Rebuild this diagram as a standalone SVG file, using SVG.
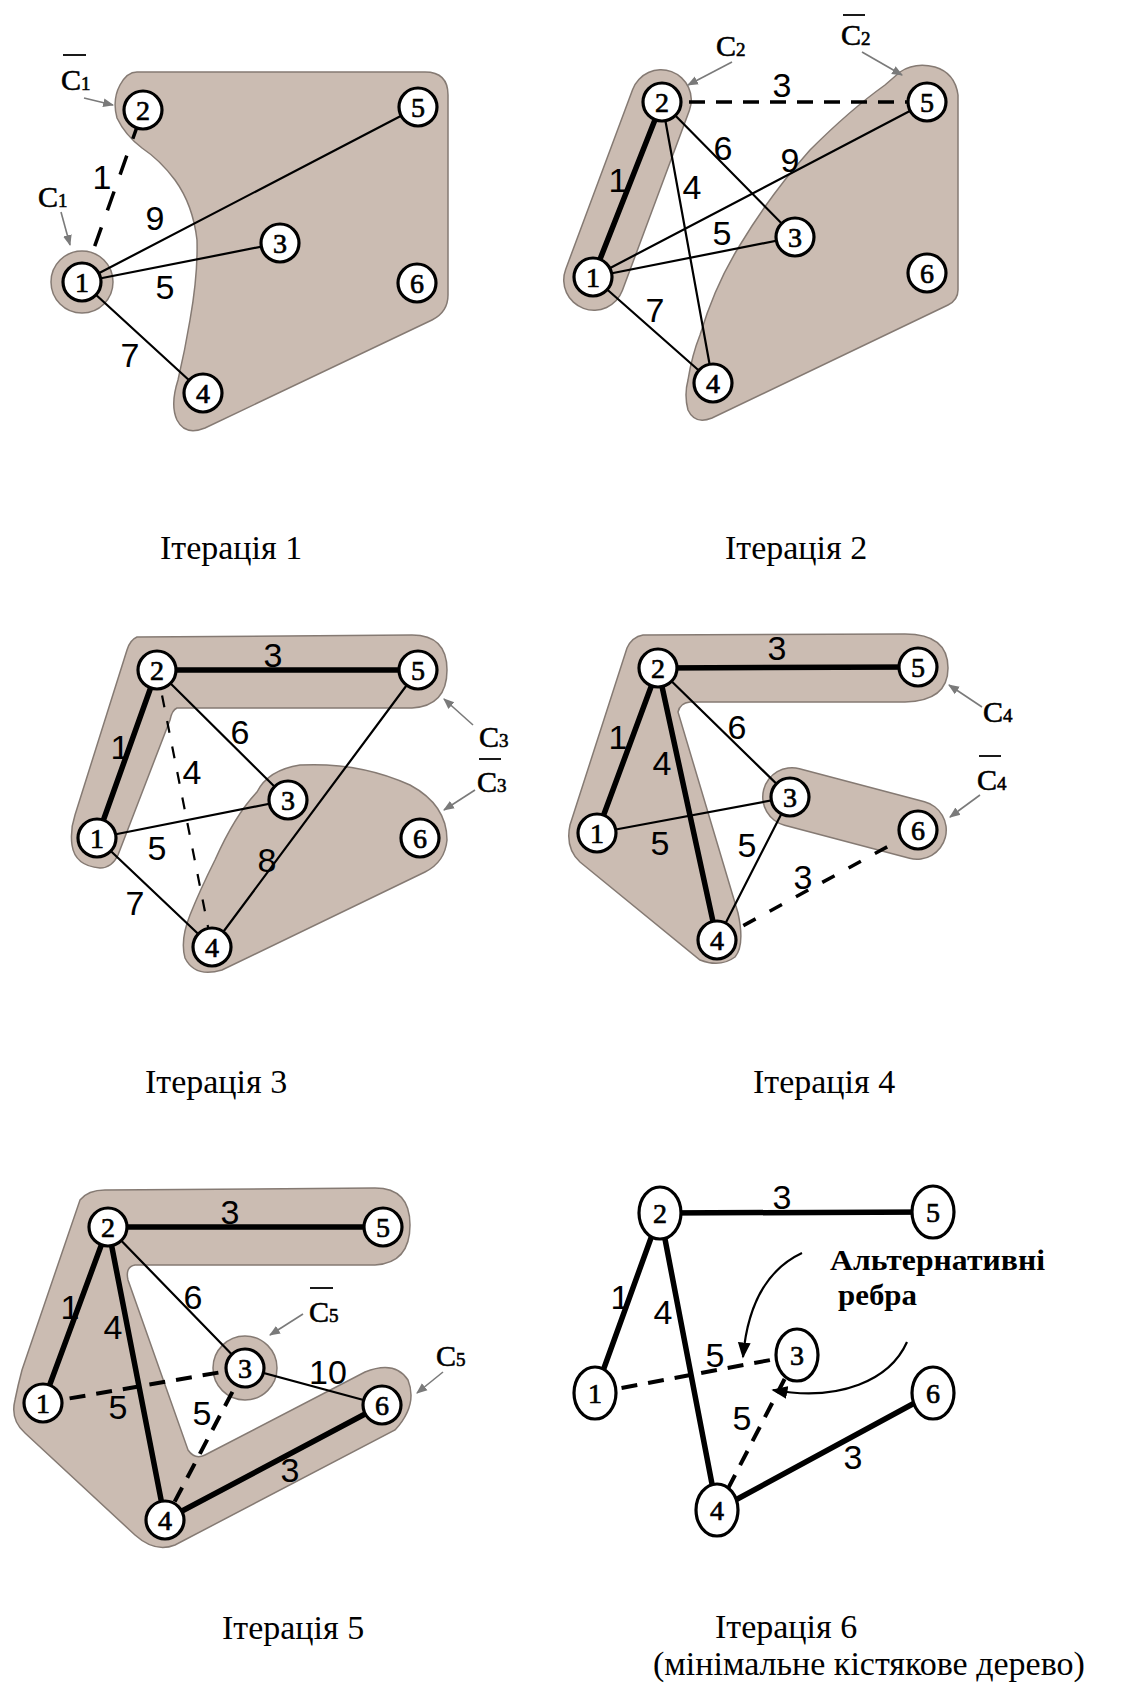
<svg xmlns="http://www.w3.org/2000/svg" width="1146" height="1693" viewBox="0 0 1146 1693">
<style>
.shade{fill:#cbbcb2;stroke:#857a73;stroke-width:1.5}
.e{stroke:#000;fill:none;stroke-linecap:round}
.thin{stroke-width:2.2}
.thick{stroke-width:5.5}
.dash{stroke-width:3.5;stroke-dasharray:16 11;stroke-linecap:butt}
.nd circle,.nd ellipse{fill:#fff;stroke:#000;stroke-width:3.2}
.nt{font-family:"Liberation Serif",serif;font-size:28px;text-anchor:middle;stroke:#000;stroke-width:0.7}
.w{font-family:"Liberation Sans",sans-serif;font-size:34px;text-anchor:middle}
.cl{font-family:"Liberation Serif",serif;font-size:30px;stroke:#000;stroke-width:0.6}
.sub{font-size:19px}
.bar{stroke:#000;stroke-width:1.8}
.cap{font-family:"Liberation Serif",serif;font-size:34px}
.ptr{stroke:#7a7a7a;stroke-width:1.6;fill:none;marker-end:url(#ga)}
.carr{stroke:#000;stroke-width:2.2;fill:none;marker-end:url(#ba)}
</style>
<defs>
<marker id="ga" viewBox="0 0 10 10" refX="9" refY="5" markerWidth="11" markerHeight="11" markerUnits="userSpaceOnUse" orient="auto"><path d="M0,1 L10,5 L0,9 Z" fill="#7a7a7a"/></marker>
<marker id="ba" viewBox="0 0 10 10" refX="9" refY="5" markerWidth="16" markerHeight="16" markerUnits="userSpaceOnUse" orient="auto"><path d="M0,1 L10,5 L0,9 Z" fill="#000"/></marker>
</defs>
<rect width="1146" height="1693" fill="#fff"/>

<!-- Shaded regions -->
<g id="regions">
  <!-- Panel 1 -->
  <path class="shade" d="M137,72 L425,72 Q448,72 448,95 L448,295 Q448,312 432,320 L205,428 Q185,436 177,420 Q170,405 178,380 Q185,350 190,320 Q198,275 197,240 Q193,205 175,180 Q160,160 142,148 Q125,135 117,118 Q112,100 120,85 Q127,72 137,72 Z"/>
  <circle class="shade" cx="82" cy="282" r="31"/>
  <!-- Panel 2 -->
  <line x1="594" y1="280" x2="661" y2="100" stroke="#857a73" stroke-width="62" stroke-linecap="round"/>
  <line x1="594" y1="280" x2="661" y2="100" stroke="#cbbcb2" stroke-width="59" stroke-linecap="round"/>
  <path class="shade" d="M900,72 Q915,62 935,67 Q955,73 958,95 L958,290 Q958,300 948,305 L712,418 Q695,425 688,410 Q684,395 688,380 Q692,355 700,335 Q715,285 740,245 Q770,195 810,150 Q850,110 885,85 Z"/>
  <!-- Panel 3 -->
  <path class="shade" d="M137,637 L412,635 Q447,635 447,670 Q447,706 412,708 L177,708 Q172,710 170,720 L118,855 Q112,868 100,868 Q75,866 72,845 Q70,830 75,815 L127,650 Q130,640 137,637 Z"/>
  <path class="shade" d="M257,792 Q268,770 300,765 Q360,762 410,785 Q447,805 447,840 Q445,862 425,872 L222,970 Q195,978 185,958 Q180,940 190,915 Q200,890 215,860 Q235,815 257,792 Z"/>
  <!-- Panel 4 -->
  <path class="shade" d="M643,635 L905,634 Q948,634 948,668 Q948,701 905,702 L690,702 Q680,703 678,712 L738,913 Q745,945 735,957 Q720,968 700,960 L580,862 Q565,848 570,825 L627,648 Q632,637 643,635 Z"/>
  <line x1="792" y1="797" x2="917" y2="830" stroke="#857a73" stroke-width="60" stroke-linecap="round"/>
  <line x1="792" y1="797" x2="917" y2="830" stroke="#cbbcb2" stroke-width="57" stroke-linecap="round"/>
  <!-- Panel 5 -->
  <path class="shade" d="M80,1200 Q88,1190 105,1190 L375,1188 Q410,1188 410,1225 Q410,1263 375,1265 L135,1265 Q125,1267 128,1280 L188,1450 Q195,1460 205,1455 L365,1372 Q395,1360 408,1380 Q418,1405 395,1430 L175,1545 Q155,1553 135,1535 L25,1433 Q10,1420 15,1400 Q18,1385 22,1370 Z"/>
  <circle class="shade" cx="245" cy="1368" r="32"/>
</g>

<!-- Connectors -->
<g id="connectors">
  <!-- Panel 1 -->
  <line class="e dash" style="stroke-dasharray:20 18" x1="82" y1="282" x2="143" y2="110"/>
  <line class="e thin" x1="82" y1="282" x2="418" y2="107"/>
  <line class="e thin" x1="82" y1="282" x2="280" y2="243"/>
  <line class="e thin" x1="82" y1="282" x2="203" y2="393"/>
  <!-- Panel 2 -->
  <line class="e dash" x1="662" y1="102" x2="927" y2="102"/>
  <line class="e thick" x1="593" y1="277" x2="662" y2="102"/>
  <line class="e thin" x1="662" y1="102" x2="795" y2="237"/>
  <line class="e thin" x1="662" y1="102" x2="713" y2="383"/>
  <line class="e thin" x1="593" y1="277" x2="927" y2="102"/>
  <line class="e thin" x1="593" y1="277" x2="795" y2="237"/>
  <line class="e thin" x1="593" y1="277" x2="713" y2="383"/>
  <!-- Panel 3 -->
  <line class="e thick" x1="157" y1="670" x2="418" y2="670"/>
  <line class="e thick" x1="97" y1="838" x2="157" y2="670"/>
  <line class="e thin" x1="157" y1="670" x2="288" y2="800"/>
  <line class="e dash" style="stroke-width:2.2;stroke-dasharray:12 14" x1="157" y1="670" x2="212" y2="947"/>
  <line class="e thin" x1="97" y1="838" x2="288" y2="800"/>
  <line class="e thin" x1="97" y1="838" x2="212" y2="947"/>
  <line class="e thin" x1="418" y1="670" x2="212" y2="947"/>
  <!-- Panel 4 -->
  <line class="e thick" x1="658" y1="668" x2="918" y2="667"/>
  <line class="e thick" x1="597" y1="833" x2="658" y2="668"/>
  <line class="e thick" x1="658" y1="668" x2="717" y2="940"/>
  <line class="e thin" x1="658" y1="668" x2="790" y2="797"/>
  <line class="e thin" x1="597" y1="833" x2="790" y2="797"/>
  <line class="e thin" x1="790" y1="797" x2="717" y2="940"/>
  <line class="e dash" style="stroke-dasharray:14 16" x1="717" y1="940" x2="918" y2="830"/>
  <!-- Panel 5 -->
  <line class="e thick" x1="108" y1="1227" x2="383" y2="1227"/>
  <line class="e thick" x1="43" y1="1403" x2="108" y2="1227"/>
  <line class="e thick" x1="108" y1="1227" x2="165" y2="1520"/>
  <line class="e thick" x1="165" y1="1520" x2="382" y2="1405"/>
  <line class="e thin" x1="108" y1="1227" x2="245" y2="1368"/>
  <line class="e thin" x1="245" y1="1368" x2="382" y2="1405"/>
  <line class="e dash" style="stroke-width:4" x1="43" y1="1403" x2="245" y2="1368"/>
  <line class="e dash" style="stroke-width:4" x1="245" y1="1368" x2="165" y2="1520"/>
  <!-- Panel 6 -->
  <line class="e thick" x1="660" y1="1213" x2="933" y2="1212"/>
  <line class="e thick" x1="595" y1="1393" x2="660" y2="1213"/>
  <line class="e thick" x1="660" y1="1213" x2="717" y2="1510"/>
  <line class="e thick" x1="717" y1="1510" x2="933" y2="1393"/>
  <line class="e dash" style="stroke-width:4" x1="595" y1="1393" x2="797" y2="1355"/>
  <line class="e dash" style="stroke-width:4" x1="797" y1="1355" x2="717" y2="1510"/>
  <path class="carr" d="M802,1253 C770,1268 748,1300 743,1357"/>
  <path class="carr" d="M907,1342 C890,1380 840,1402 773,1390"/>
</g>

<!-- Nodes -->
<g id="p1-n1" class="nd"><circle cx="82" cy="282" r="19"/><text class="nt" x="82" y="292">1</text></g>
<g id="p1-n2" class="nd"><circle cx="143" cy="110" r="19"/><text class="nt" x="143" y="120">2</text></g>
<g id="p1-n3" class="nd"><circle cx="280" cy="243" r="19"/><text class="nt" x="280" y="253">3</text></g>
<g id="p1-n4" class="nd"><circle cx="203" cy="393" r="19"/><text class="nt" x="203" y="403">4</text></g>
<g id="p1-n5" class="nd"><circle cx="418" cy="107" r="19"/><text class="nt" x="418" y="117">5</text></g>
<g id="p1-n6" class="nd"><circle cx="417" cy="283" r="19"/><text class="nt" x="417" y="293">6</text></g>

<g id="p2-n1" class="nd"><circle cx="593" cy="277" r="19"/><text class="nt" x="593" y="287">1</text></g>
<g id="p2-n2" class="nd"><circle cx="662" cy="102" r="19"/><text class="nt" x="662" y="112">2</text></g>
<g id="p2-n3" class="nd"><circle cx="795" cy="237" r="19"/><text class="nt" x="795" y="247">3</text></g>
<g id="p2-n4" class="nd"><circle cx="713" cy="383" r="19"/><text class="nt" x="713" y="393">4</text></g>
<g id="p2-n5" class="nd"><circle cx="927" cy="102" r="19"/><text class="nt" x="927" y="112">5</text></g>
<g id="p2-n6" class="nd"><circle cx="927" cy="273" r="19"/><text class="nt" x="927" y="283">6</text></g>

<g id="p3-n1" class="nd"><circle cx="97" cy="838" r="19"/><text class="nt" x="97" y="848">1</text></g>
<g id="p3-n2" class="nd"><circle cx="157" cy="670" r="19"/><text class="nt" x="157" y="680">2</text></g>
<g id="p3-n3" class="nd"><circle cx="288" cy="800" r="19"/><text class="nt" x="288" y="810">3</text></g>
<g id="p3-n4" class="nd"><circle cx="212" cy="947" r="19"/><text class="nt" x="212" y="957">4</text></g>
<g id="p3-n5" class="nd"><circle cx="418" cy="670" r="19"/><text class="nt" x="418" y="680">5</text></g>
<g id="p3-n6" class="nd"><circle cx="420" cy="838" r="19"/><text class="nt" x="420" y="848">6</text></g>

<g id="p4-n1" class="nd"><circle cx="597" cy="833" r="19"/><text class="nt" x="597" y="843">1</text></g>
<g id="p4-n2" class="nd"><circle cx="658" cy="668" r="19"/><text class="nt" x="658" y="678">2</text></g>
<g id="p4-n3" class="nd"><circle cx="790" cy="797" r="19"/><text class="nt" x="790" y="807">3</text></g>
<g id="p4-n4" class="nd"><circle cx="717" cy="940" r="19"/><text class="nt" x="717" y="950">4</text></g>
<g id="p4-n5" class="nd"><circle cx="918" cy="667" r="19"/><text class="nt" x="918" y="677">5</text></g>
<g id="p4-n6" class="nd"><circle cx="918" cy="830" r="19"/><text class="nt" x="918" y="840">6</text></g>

<g id="p5-n1" class="nd"><circle cx="43" cy="1403" r="19"/><text class="nt" x="43" y="1413">1</text></g>
<g id="p5-n2" class="nd"><circle cx="108" cy="1227" r="19"/><text class="nt" x="108" y="1237">2</text></g>
<g id="p5-n3" class="nd"><circle cx="245" cy="1368" r="19"/><text class="nt" x="245" y="1378">3</text></g>
<g id="p5-n4" class="nd"><circle cx="165" cy="1520" r="19"/><text class="nt" x="165" y="1530">4</text></g>
<g id="p5-n5" class="nd"><circle cx="383" cy="1227" r="19"/><text class="nt" x="383" y="1237">5</text></g>
<g id="p5-n6" class="nd"><circle cx="382" cy="1405" r="19"/><text class="nt" x="382" y="1415">6</text></g>

<g id="p6-n1" class="nd"><ellipse cx="595" cy="1393" rx="21" ry="26"/><text class="nt" x="595" y="1403">1</text></g>
<g id="p6-n2" class="nd"><ellipse cx="660" cy="1213" rx="21" ry="26"/><text class="nt" x="660" y="1223">2</text></g>
<g id="p6-n3" class="nd"><ellipse cx="797" cy="1355" rx="21" ry="26"/><text class="nt" x="797" y="1365">3</text></g>
<g id="p6-n4" class="nd"><ellipse cx="717" cy="1510" rx="21" ry="26"/><text class="nt" x="717" y="1520">4</text></g>
<g id="p6-n5" class="nd"><ellipse cx="933" cy="1212" rx="21" ry="26"/><text class="nt" x="933" y="1222">5</text></g>
<g id="p6-n6" class="nd"><ellipse cx="933" cy="1393" rx="21" ry="26"/><text class="nt" x="933" y="1403">6</text></g>

<!-- Edge weights -->
<g id="weights" class="w">
  <text x="102" y="189">1</text><text x="155" y="230">9</text><text x="165" y="299">5</text><text x="130" y="367">7</text>
  <text x="782" y="97">3</text><text x="618" y="192">1</text><text x="723" y="160">6</text><text x="692" y="199">4</text><text x="790" y="172">9</text><text x="722" y="245">5</text><text x="655" y="322">7</text>
  <text x="273" y="667">3</text><text x="120" y="759">1</text><text x="240" y="744">6</text><text x="192" y="784">4</text><text x="157" y="860">5</text><text x="135" y="915">7</text><text x="267" y="872">8</text>
  <text x="777" y="660">3</text><text x="618" y="749">1</text><text x="662" y="775">4</text><text x="737" y="739">6</text><text x="660" y="855">5</text><text x="747" y="857">5</text><text x="803" y="889">3</text>
  <text x="230" y="1224">3</text><text x="70" y="1319">1</text><text x="113" y="1339">4</text><text x="193" y="1309">6</text><text x="328" y="1384">10</text><text x="290" y="1482">3</text><text x="118" y="1419">5</text><text x="202" y="1425">5</text>
  <text x="782" y="1209">3</text><text x="620" y="1309">1</text><text x="663" y="1324">4</text><text x="715" y="1367">5</text><text x="742" y="1430">5</text><text x="853" y="1469">3</text>
</g>

<!-- Set labels -->
<g id="setlabels" class="cl">
  <line class="bar" x1="63" y1="55" x2="86" y2="55"/><text x="61" y="90">C<tspan class="sub">1</tspan></text>
  <path class="ptr" d="M84,98 L113,105"/>
  <text x="38" y="207">C<tspan class="sub">1</tspan></text>
  <path class="ptr" d="M61,212 L70,245"/>

  <text x="716" y="56">C<tspan class="sub">2</tspan></text>
  <path class="ptr" d="M732,62 L688,85"/>
  <line class="bar" x1="843" y1="15" x2="865" y2="15"/><text x="841" y="45">C<tspan class="sub">2</tspan></text>
  <path class="ptr" d="M862,52 L902,75"/>

  <text x="479" y="747">C<tspan class="sub">3</tspan></text>
  <path class="ptr" d="M473,725 L444,699"/>
  <line class="bar" x1="479" y1="759" x2="501" y2="759"/><text x="477" y="792">C<tspan class="sub">3</tspan></text>
  <path class="ptr" d="M475,790 L444,810"/>

  <text x="983" y="722">C<tspan class="sub">4</tspan></text>
  <path class="ptr" d="M982,707 L949,685"/>
  <line class="bar" x1="979" y1="756" x2="1001" y2="756"/><text x="977" y="790">C<tspan class="sub">4</tspan></text>
  <path class="ptr" d="M980,795 L950,817"/>

  <line class="bar" x1="310" y1="1288" x2="333" y2="1288"/><text x="309" y="1322">C<tspan class="sub">5</tspan></text>
  <path class="ptr" d="M303,1314 L270,1335"/>
  <text x="436" y="1366">C<tspan class="sub">5</tspan></text>
  <path class="ptr" d="M443,1372 L417,1393"/>
</g>

<g id="note">
  <text x="830" y="1270" font-family="Liberation Serif, serif" font-weight="bold" font-size="29" textLength="215" lengthAdjust="spacingAndGlyphs">Альтернативні</text>
  <text x="838" y="1305" font-family="Liberation Serif, serif" font-weight="bold" font-size="29" textLength="79" lengthAdjust="spacingAndGlyphs">ребра</text>
</g>

<!-- Captions -->
<g id="captions" class="cap">
  <text x="160" y="559">Ітерація 1</text>
  <text x="725" y="559">Ітерація 2</text>
  <text x="145" y="1093">Ітерація 3</text>
  <text x="753" y="1093">Ітерація 4</text>
  <text x="222" y="1639">Ітерація 5</text>
  <text x="715" y="1638">Ітерація 6</text>
  <text x="653" y="1675">(мінімальне кістякове дерево)</text>
</g>
</svg>
